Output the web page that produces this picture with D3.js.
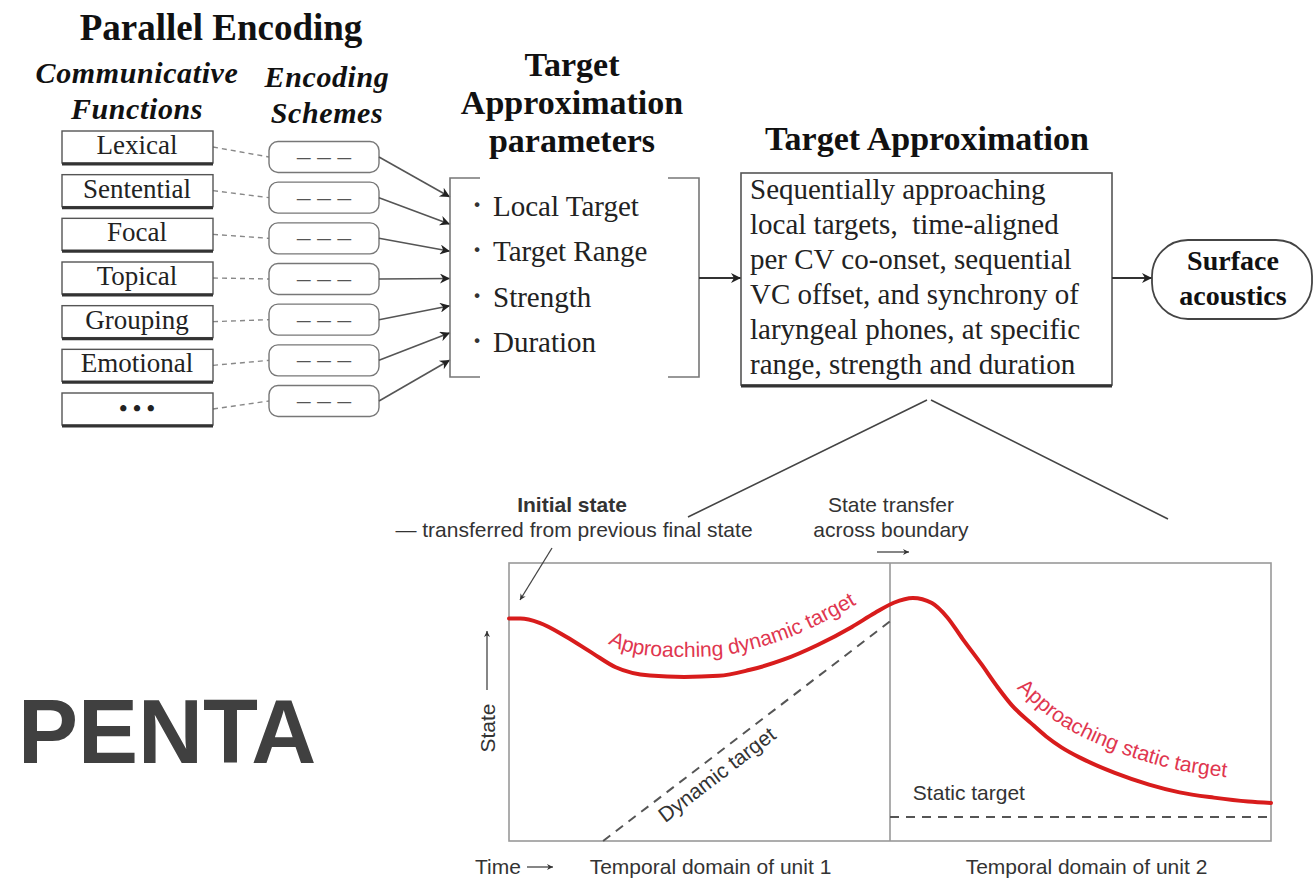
<!DOCTYPE html>
<html>
<head>
<meta charset="utf-8">
<style>
  body { margin: 0; background: #fff; }
  svg { display: block; }
</style>
<script src="https://cdn.jsdelivr.net/npm/d3@7"></script>
</head>
<body>
<div id="container"></div>
<script>

/*
 * The Data
 */
var functionNames = ["Lexical", "Sentential", "Focal", "Topical", "Grouping", "Emotional", "• • •"];
var taParameters = ["Local Target", "Target Range", "Strength", "Duration"];
var taDescription = [
  "Sequentially approaching",
  "local targets,  time-aligned",
  "per CV co-onset, sequential",
  "VC offset, and synchrony of",
  "laryngeal phones, at specific",
  "range, strength and duration"
];
var surfaceLines = ["Surface", "acoustics"];

// F0-like trajectory over two units (time 0..1 = unit 1, 1..2 = unit 2), state 0..1
var curveTime  = [0, 0.03, 0.08, 0.15, 0.22, 0.28, 0.37, 0.46, 0.55, 0.63, 0.72, 0.81, 0.90, 0.96,
                  1.01, 1.06, 1.11, 1.15, 1.19, 1.24, 1.28, 1.32, 1.37, 1.41, 1.45, 1.50, 1.59,
                  1.68, 1.76, 1.85, 1.94, 2.0];
var curveState = [0.80, 0.80, 0.785, 0.735, 0.675, 0.625, 0.595, 0.59, 0.594, 0.615, 0.652, 0.705, 0.77, 0.82,
                  0.857, 0.874, 0.856, 0.805, 0.728, 0.636, 0.558, 0.488, 0.424, 0.376, 0.337, 0.299, 0.245,
                  0.203, 0.175, 0.156, 0.142, 0.137];
var dynamicTarget = [[0.247, 0], [1.0, 0.79]];
var staticTarget = [[1.0, 0.086], [2.0, 0.086]];
var unitLabels = ["Temporal domain of unit 1", "Temporal domain of unit 2"];

/*
 * The Setup
 */
var W = 1316, H = 880;
var serif = "'Liberation Serif', 'Times New Roman', serif";
var sans = "'Liberation Sans', Arial, Helvetica, sans-serif";

var svg = d3.select("#container").append("svg")
  .attr("width", W)
  .attr("height", H);

var defs = svg.append("defs");
function addMarker(id, w, h, color) {
  defs.append("marker")
    .attr("id", id)
    .attr("viewBox", "0 0 10 10")
    .attr("refX", 10).attr("refY", 5)
    .attr("markerWidth", w).attr("markerHeight", h)
    .attr("markerUnits", "userSpaceOnUse")
    .attr("orient", "auto")
    .append("path")
    .attr("d", "M0,0 L10,5 L0,10 L3,5 z")
    .attr("fill", color);
}
addMarker("arrowTop", 13, 10, "#222");
addMarker("arrowSmall", 8, 6, "#333");

function arrow(x1, y1, x2, y2, marker, color, width) {
  svg.append("line")
    .attr("x1", x1).attr("y1", y1).attr("x2", x2).attr("y2", y2)
    .attr("stroke", color).attr("stroke-width", width)
    .attr("marker-end", "url(#" + marker + ")");
}

/*
 * Parallel encoding columns
 */
var funcTop = d3.scaleLinear().domain([0, 6]).range([131, 393]);
var schemeMid = d3.scaleLinear().domain([0, 6]).range([157, 401]);
var tipY = d3.scaleLinear().domain([0, 6]).range([197, 360]);

svg.append("text").attr("x", 221).attr("y", 40)
  .attr("text-anchor", "middle").style("font", "bold 37px " + serif).attr("fill", "#111")
  .text("Parallel Encoding");

[["Communicative", 137, 83], ["Functions", 137, 119], ["Encoding", 327, 87], ["Schemes", 327, 123]]
  .forEach(function(t) {
    svg.append("text").attr("x", t[1]).attr("y", t[2])
      .attr("text-anchor", "middle")
      .style("font", "italic bold 30px " + serif).style("letter-spacing", "0.6px")
      .attr("fill", "#111")
      .text(t[0]);
  });

var rows = svg.append("g");
functionNames.forEach(function(name, i) {
  var top = funcTop(i);
  // dashed link to scheme
  rows.append("line")
    .attr("x1", 213).attr("y1", top + 16).attr("x2", 269).attr("y2", schemeMid(i))
    .attr("stroke", "#888").attr("stroke-width", 1.4).attr("stroke-dasharray", "5,4");
  rows.append("rect")
    .attr("x", 62).attr("y", top).attr("width", 151).attr("height", 32)
    .attr("fill", "#fff").attr("stroke", "#555").attr("stroke-width", 1.4);
  rows.append("line")
    .attr("x1", 62).attr("x2", 213).attr("y1", top + 33).attr("y2", top + 33)
    .attr("stroke", "#333").attr("stroke-width", 3);
  rows.append("text").attr("x", 137).attr("y", top + 23)
    .attr("text-anchor", "middle")
    .style("font", (i == 6 ? "bold 23px " : "27px ") + serif).attr("fill", "#222")
    .text(name);

  // scheme box
  rows.append("rect")
    .attr("x", 269).attr("y", schemeMid(i) - 15.5).attr("width", 110).attr("height", 31)
    .attr("rx", 9).attr("fill", "#fff").attr("stroke", "#777").attr("stroke-width", 1.4);
  rows.append("text").attr("x", 324).attr("y", schemeMid(i) + 8)
    .attr("text-anchor", "middle").style("font", "27px " + serif).attr("fill", "#555")
    .text("– – –");

  // arrow into parameter bracket
  arrow(379, schemeMid(i), 450, tipY(i), "arrowTop", "#555", 1.6);
});

/*
 * Target approximation parameters
 */
["Target", "Approximation", "parameters"].forEach(function(t, i) {
  svg.append("text").attr("x", 572).attr("y", [76, 114, 152][i])
    .attr("text-anchor", "middle").style("font", "bold 34px " + serif).attr("fill", "#111")
    .text(t);
});

// brackets
svg.append("path")
  .attr("d", "M480,178 H450 V377 H480 M668,178 H699 V377 H668")
  .attr("fill", "none").attr("stroke", "#777").attr("stroke-width", 1.6);

taParameters.forEach(function(p, i) {
  var by = 216 + i * 45.3;
  svg.append("text").attr("x", 477).attr("y", by - 2)
    .attr("text-anchor", "middle").style("font", "bold 29px " + serif).attr("fill", "#333")
    .text("·");
  svg.append("text").attr("x", 493).attr("y", by)
    .style("font", "29px " + serif).attr("fill", "#222")
    .text(p);
});

arrow(699, 278, 741, 278, "arrowTop", "#333", 1.8);

/*
 * Target approximation box
 */
svg.append("text").attr("x", 927).attr("y", 150)
  .attr("text-anchor", "middle").style("font", "bold 34px " + serif).attr("fill", "#111")
  .text("Target Approximation");

svg.append("rect")
  .attr("x", 741).attr("y", 173).attr("width", 371).attr("height", 212)
  .attr("fill", "#fff").attr("stroke", "#555").attr("stroke-width", 1.6);
svg.append("line")
  .attr("x1", 741).attr("x2", 1112).attr("y1", 386).attr("y2", 386)
  .attr("stroke", "#333").attr("stroke-width", 3);

taDescription.forEach(function(l, i) {
  svg.append("text").attr("x", 750).attr("y", 199 + i * 35)
    .style("font", "29px " + serif).attr("fill", "#222")
    .style("white-space", "pre")
    .text(l);
});

arrow(1112, 278, 1152, 278, "arrowTop", "#333", 1.8);

svg.append("rect")
  .attr("x", 1152).attr("y", 240).attr("width", 160).attr("height", 79)
  .attr("rx", 36).attr("fill", "#fff").attr("stroke", "#444").attr("stroke-width", 1.8);
surfaceLines.forEach(function(l, i) {
  svg.append("text").attr("x", 1233).attr("y", 270 + i * 35)
    .attr("text-anchor", "middle").style("font", "bold 28px " + serif).attr("fill", "#111")
    .text(l);
});

// zoom lines down to the lower panel
svg.append("path")
  .attr("d", "M927,400 L688,517 M931,400 L1168,519")
  .attr("fill", "none").attr("stroke", "#444").attr("stroke-width", 1.6);

/*
 * PENTA
 */
svg.append("text").attr("x", 18).attr("y", 763)
  .style("font", "bold 90px " + sans).attr("fill", "#404040")
  .text("PENTA");

/*
 * Lower panel: target approximation over time
 */
var x = d3.scaleLinear().domain([0, 2]).range([509, 1271]);
var y = d3.scaleLinear().domain([0, 1]).range([841, 563]);

var panel = svg.append("g");
panel.append("rect")
  .attr("x", x(0)).attr("y", y(1)).attr("width", x(2) - x(0)).attr("height", y(0) - y(1))
  .attr("fill", "none").attr("stroke", "#999").attr("stroke-width", 1.6);
panel.append("line")
  .attr("x1", x(1)).attr("x2", x(1)).attr("y1", y(1)).attr("y2", y(0))
  .attr("stroke", "#999").attr("stroke-width", 1.6);

var pts = curveTime.map(function(t, i) { return [t, curveState[i]]; });

var line = d3.line()
  .x(function(d) { return x(d[0]); })
  .y(function(d) { return y(d[1]); })
  .curve(d3.curveMonotoneX);

panel.append("path").datum(dynamicTarget)
  .attr("d", line).attr("fill", "none")
  .attr("stroke", "#555").attr("stroke-width", 2).attr("stroke-dasharray", "9,7");
panel.append("path").datum(staticTarget)
  .attr("d", line).attr("fill", "none")
  .attr("stroke", "#555").attr("stroke-width", 2).attr("stroke-dasharray", "9,7");

panel.append("path").datum(pts)
  .attr("d", line).attr("fill", "none")
  .attr("stroke", "#d81c1c").attr("stroke-width", 4)
  .attr("stroke-linecap", "round");

// label paths: the curve lifted a little above itself
function liftedLine(off) {
  return d3.line()
    .x(function(d) { return x(d[0]); })
    .y(function(d) { return y(d[1]) - off; })
    .curve(d3.curveMonotoneX);
}
defs.append("path").attr("id", "dynLabel")
  .attr("d", liftedLine(20)(pts.filter(function(d) { return d[0] >= 0.22 && d[0] <= 1.01; })));
defs.append("path").attr("id", "statLabel")
  .attr("d", liftedLine(22)(pts.filter(function(d) { return d[0] >= 1.24; })));

[["#dynLabel", 18, "Approaching dynamic target"], ["#statLabel", 58, "Approaching static target"]]
  .forEach(function(l) {
    panel.append("text")
      .style("font", "21px " + sans).attr("fill", "#e0364f")
      .append("textPath")
      .attr("href", l[0]).attr("startOffset", l[1])
      .text(l[2]);
  });

// "Dynamic target" along the dashed line
var ang = Math.atan2(y(dynamicTarget[1][1]) - y(dynamicTarget[0][1]),
                     x(dynamicTarget[1][0]) - x(dynamicTarget[0][0])) * 180 / Math.PI;
panel.append("text")
  .attr("transform", "translate(" + x(0.557) + "," + y(0.218) + ") rotate(" + ang + ")")
  .attr("text-anchor", "middle")
  .style("font", "21px " + sans).attr("fill", "#333")
  .text("Dynamic target");

panel.append("text").attr("x", x(1.06)).attr("y", y(0.147))
  .style("font", "21px " + sans).attr("fill", "#333")
  .text("Static target");

// annotations above the panel
panel.append("text").attr("x", 572).attr("y", 512)
  .attr("text-anchor", "middle").style("font", "bold 21px " + sans).attr("fill", "#333")
  .text("Initial state");
panel.append("text").attr("x", 574).attr("y", 537)
  .attr("text-anchor", "middle").style("font", "21px " + sans).attr("fill", "#333")
  .text("— transferred from previous final state");
arrow(552, 548, 520, 600, "arrowSmall", "#444", 1.3);

panel.append("text").attr("x", 891).attr("y", 512)
  .attr("text-anchor", "middle").style("font", "21px " + sans).attr("fill", "#333")
  .text("State transfer");
panel.append("text").attr("x", 891).attr("y", 537)
  .attr("text-anchor", "middle").style("font", "21px " + sans).attr("fill", "#333")
  .text("across boundary");
arrow(877, 552, 909, 552, "arrowSmall", "#444", 1.3);

// axis names
panel.append("text")
  .attr("transform", "translate(495,728) rotate(-90)")
  .attr("text-anchor", "middle").style("font", "21px " + sans).attr("fill", "#333")
  .text("State");
arrow(487, 690, 487, 631, "arrowSmall", "#444", 1.3);

panel.append("text").attr("x", 475).attr("y", 874)
  .style("font", "21px " + sans).attr("fill", "#333")
  .text("Time");
arrow(527, 867, 553, 867, "arrowSmall", "#444", 1.3);

unitLabels.forEach(function(u, i) {
  panel.append("text").attr("x", x(i + 0.5) + (i == 0 ? 11 : 6)).attr("y", 874)
    .attr("text-anchor", "middle").style("font", "21px " + sans).attr("fill", "#333")
    .text(u);
});

</script>
</body>
</html>
